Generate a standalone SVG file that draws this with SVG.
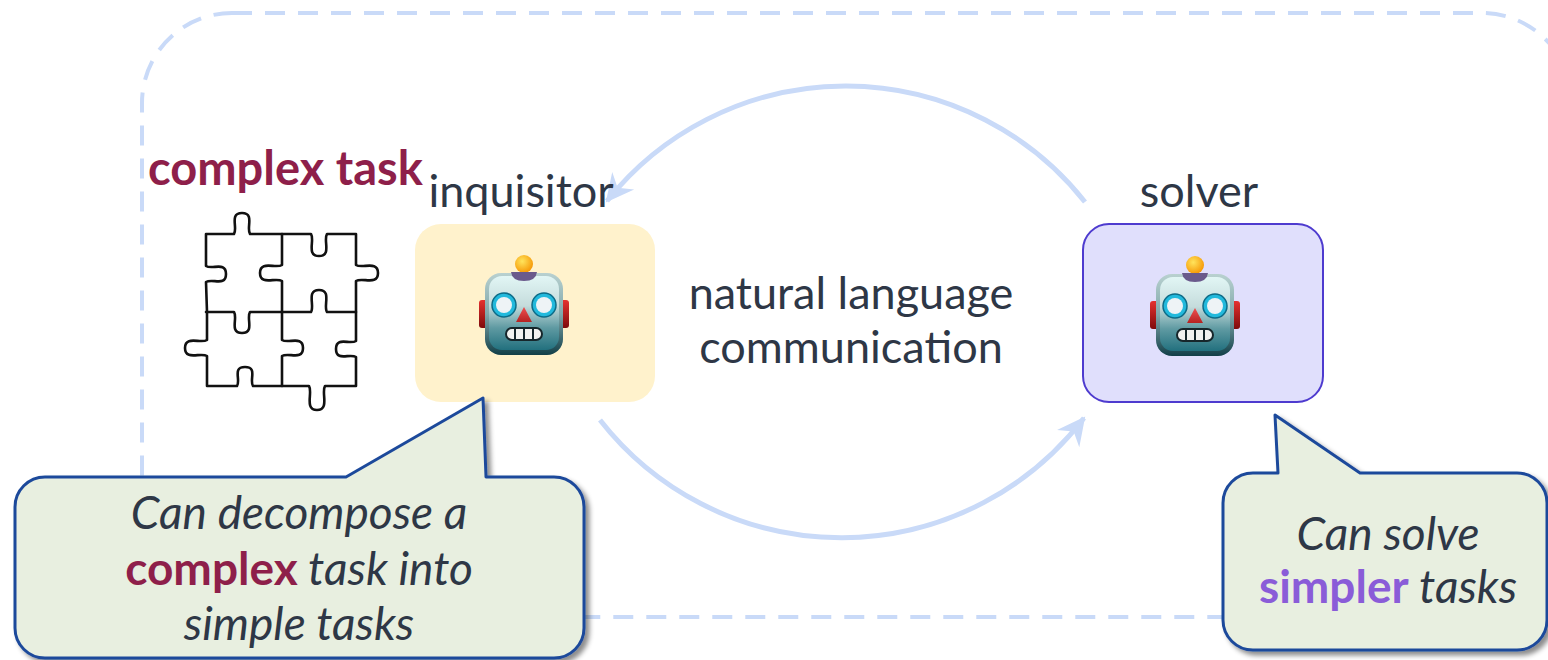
<svg xmlns="http://www.w3.org/2000/svg" xmlns:xlink="http://www.w3.org/1999/xlink" width="1548" height="660" viewBox="0 0 1548 660">
  <style>
    .lbl { font-family: Lato, "Open Sans", "Liberation Sans", sans-serif; fill: #2e3746; }
    .big { font-size: 45px; }
    .call { font-size: 46px; font-style: italic; }
    .strong { font-style: normal; font-weight: bold; }
    .frame { fill: none; stroke: #c9daf8; stroke-width: 4; stroke-dasharray: 20 13; }
    .flow { fill: none; stroke: #c9daf8; stroke-width: 5; }
    .bubble { fill: #e8efe0; stroke: #1d4a9b; stroke-width: 3; stroke-linejoin: round; filter: url(#shadow); }
    .puzzle { fill: none; stroke: #111; stroke-width: 2.6; stroke-linejoin: round; stroke-linecap: round; }
  </style>
  <defs>
    <filter id="shadow" x="-5%" y="-5%" width="115%" height="120%">
      <feDropShadow dx="4" dy="4" stdDeviation="2.5" flood-color="#000" flood-opacity="0.45"/>
    </filter>
    <marker id="head" markerUnits="userSpaceOnUse" markerWidth="40" markerHeight="40" viewBox="-30 -20 40 40" refX="0" refY="0" orient="auto">
      <path d="M2,0 L-26,-14 L-17,0 L-26,14 Z" fill="#c9daf8"/>
    </marker>
    <linearGradient id="rim" x1="0" y1="0" x2="0" y2="1">
      <stop offset="0" stop-color="#b9d1d0"/>
      <stop offset="0.5" stop-color="#7fa7aa"/>
      <stop offset="1" stop-color="#123f48"/>
    </linearGradient>
    <linearGradient id="face" x1="0" y1="0" x2="0" y2="1">
      <stop offset="0" stop-color="#e2f6f5"/>
      <stop offset="0.4" stop-color="#c5dcdc"/>
      <stop offset="0.7" stop-color="#5f9aa2"/>
      <stop offset="1" stop-color="#22707e"/>
    </linearGradient>
    <linearGradient id="ear" x1="0" y1="0" x2="0" y2="1">
      <stop offset="0" stop-color="#e5312f"/>
      <stop offset="1" stop-color="#7e0b0b"/>
    </linearGradient>
    <radialGradient id="bulb" cx="0.4" cy="0.35" r="0.7">
      <stop offset="0" stop-color="#ffe45c"/>
      <stop offset="1" stop-color="#f59300"/>
    </radialGradient>
    <linearGradient id="nose" x1="0" y1="0" x2="0" y2="1">
      <stop offset="0" stop-color="#f05050"/>
      <stop offset="1" stop-color="#b52222"/>
    </linearGradient>
    <!-- robot face, drawn around its head centre -->
    <g id="robot">
      <rect x="-45" y="-14" width="10" height="28" rx="3" fill="url(#ear)"/>
      <rect x="35" y="-14" width="10" height="28" rx="3" fill="url(#ear)"/>
      <rect x="-39" y="-41" width="78" height="82" rx="16" fill="url(#rim)"/>
      <rect x="-35" y="-38" width="70" height="74" rx="13" fill="url(#face)"/>
      <circle cx="0" cy="-50" r="9" fill="url(#bulb)"/>
      <path d="M-13,-42 L13,-42 Q12,-33 0,-33 Q-12,-33 -13,-42 Z" fill="#6a5a8c"/>
      <circle cx="-20" cy="-9" r="12" fill="#22b9dc" stroke="#0d6c88" stroke-width="1.5"/>
      <circle cx="-20" cy="-9" r="8" fill="#eef3f6"/>
      <circle cx="20" cy="-9" r="12" fill="#22b9dc" stroke="#0d6c88" stroke-width="1.5"/>
      <circle cx="20" cy="-9" r="8" fill="#eef3f6"/>
      <path d="M0,-7 L8,8 L-8,8 Z" fill="url(#nose)"/>
      <rect x="-18" y="14" width="36" height="12" rx="6" fill="#f2f2f0" stroke="#16262b" stroke-width="2"/>
      <path d="M-9,15 V25 M0,15 V25 M9,15 V25" stroke="#16262b" stroke-width="2"/>
    </g>
  </defs>

  <!-- dashed system boundary -->
  <rect class="frame" x="142" y="13" width="1430" height="604" rx="90"/>

  <!-- complex task: puzzle -->
  <g id="task">
    <text class="lbl strong" x="148" y="185" font-size="47" style="fill:#8e1f4a">complex task</text>
    <g class="puzzle">
      <path d="M206,234 L234,234 C238,228 229,213 242,213 C255,213 246,228 250,234 L282,234 L311,234 C315,240 306,256 319,256 C332,256 323,240 327,234 L356,234 L356,265 C362,269 378,260 378,273 C378,286 362,277 356,281 L356,312 L356,341 C350,345 336,336 336,349 C336,362 350,353 356,357 L356,386 L325,386 C321,392 330,410 317,410 C304,410 313,392 309,386 L282,386 L253,386 C249,380 258,367 245,367 C232,367 241,380 237,386 L207,386 L207,356 C201,352 185,361 185,348 C185,335 201,344 207,340 L207,312 L206,282 C212,278 226,287 226,274 C226,261 212,270 206,266 Z"/>
      <path d="M282,234 L282,265 C276,269 260,260 260,273 C260,286 276,277 282,281 L282,312"/>
      <path d="M282,312 L282,340 C288,344 303,335 303,348 C303,361 288,352 282,356 L282,386"/>
      <path d="M206,312 L234,312 C238,318 229,333 242,333 C255,333 246,318 250,312 L282,312"/>
      <path d="M282,312 L311,312 C315,306 306,290 319,290 C332,290 323,306 327,312 L356,312"/>
    </g>
  </g>

  <!-- connectors -->
  <g id="connectors">
    <path class="flow" d="M1085,202 A305,305 0 0 0 607,201" marker-end="url(#head)"/>
    <path class="flow" d="M600,420 A306,306 0 0 0 1084,418" marker-end="url(#head)"/>
    <text class="lbl big" x="851" y="309" text-anchor="middle">natural language</text>
    <text class="lbl big" x="851" y="363" text-anchor="middle">communication</text>
  </g>

  <!-- inquisitor -->
  <g id="inquisitor">
    <text class="lbl big" x="521" y="207" text-anchor="middle">inquisitor</text>
    <rect x="415" y="224" width="240" height="178" rx="26" fill="#fff2cc"/>
    <use xlink:href="#robot" href="#robot" transform="translate(524,314)"/>
  </g>

  <!-- solver -->
  <g id="solver">
    <text class="lbl big" x="1199" y="207" text-anchor="middle">solver</text>
    <rect x="1083" y="224" width="240" height="178" rx="26" fill="#e0dffc" stroke="#4e3bcf" stroke-width="2"/>
    <use xlink:href="#robot" href="#robot" transform="translate(1195,315)"/>
  </g>

  <!-- callout for the inquisitor -->
  <g id="inquisitor-note">
    <path class="bubble" d="M45,477 L346,477 L483,398 L486,477 L554,477 A30,30 0 0 1 584,507 L584,628 A30,30 0 0 1 554,658 L45,658 A30,30 0 0 1 15,628 L15,507 A30,30 0 0 1 45,477 Z"/>
    <text class="lbl call" x="299" y="529" text-anchor="middle">Can decompose a</text>
    <text class="lbl call" x="299" y="585" text-anchor="middle"><tspan class="strong" style="fill:#8e1f4a">complex</tspan> task into</text>
    <text class="lbl call" x="299" y="640" text-anchor="middle">simple tasks</text>
  </g>

  <!-- callout for the solver -->
  <g id="solver-note">
    <path class="bubble" d="M1253,473 L1278,473 L1275,415 L1360,473 L1517,473 A30,30 0 0 1 1547,503 L1547,620 A30,30 0 0 1 1517,650 L1253,650 A30,30 0 0 1 1223,620 L1223,503 A30,30 0 0 1 1253,473 Z"/>
    <text class="lbl call" x="1388" y="550" text-anchor="middle">Can solve</text>
    <text class="lbl call" x="1388" y="603" text-anchor="middle"><tspan class="strong" style="fill:#8a5cd8">simpler</tspan> tasks</text>
  </g>
</svg>
